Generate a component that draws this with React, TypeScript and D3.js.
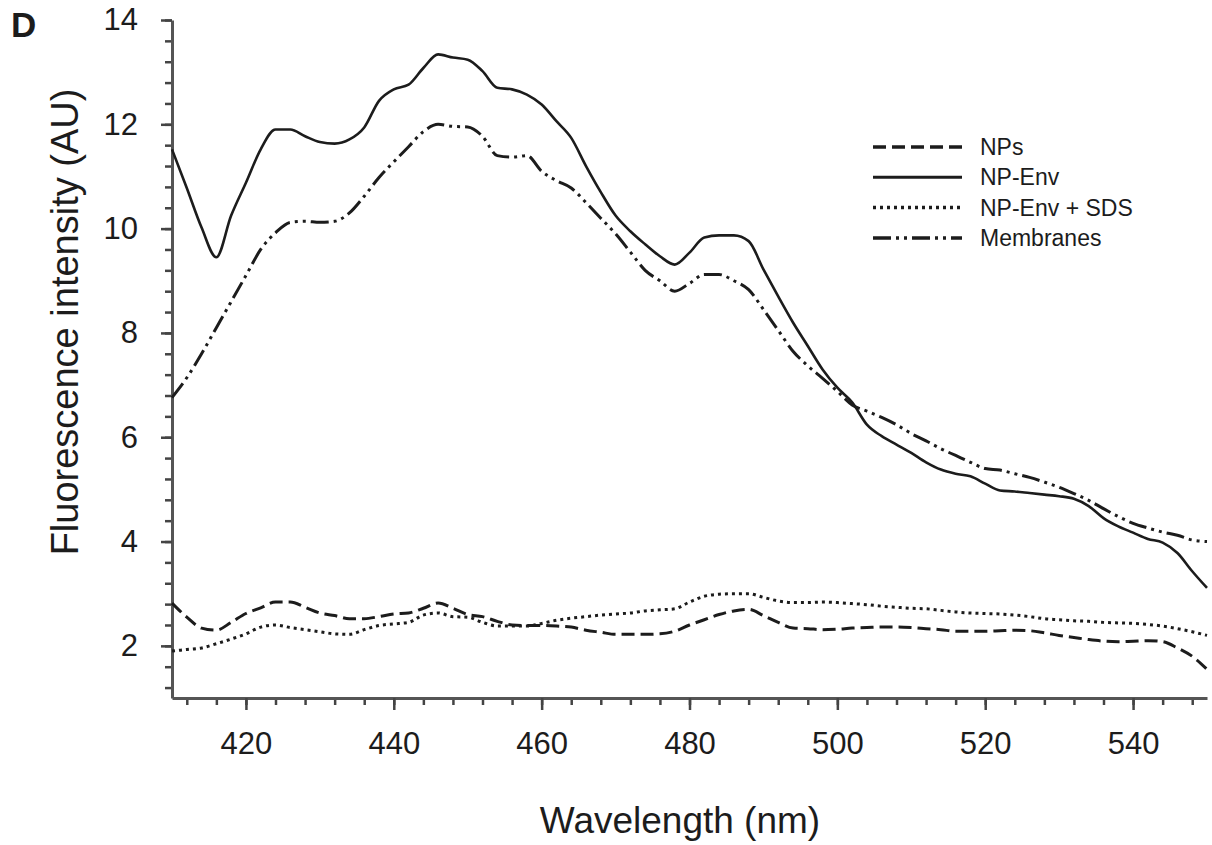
import React, { useEffect, useRef } from 'react'
import * as d3 from 'd3'

// wavelength grid (nm), read every 2 nm off the figure
const wavelengths = [
  410, 412, 414, 416, 418, 420, 422, 424, 426, 428, 430, 432, 434, 436, 438, 440, 442, 444,
  446, 448, 450, 452, 454, 456, 458, 460, 462, 464, 466, 468, 470, 472, 474, 476, 478, 480,
  482, 484, 486, 488, 490, 492, 494, 496, 498, 500, 502, 504, 506, 508, 510, 512, 514, 516,
  518, 520, 522, 524, 526, 528, 530, 532, 534, 536, 538, 540, 542, 544, 546, 548, 550,
]

const npsValues = [
  2.82, 2.55, 2.34, 2.30, 2.45, 2.62, 2.73, 2.84, 2.84, 2.74, 2.63, 2.58, 2.52, 2.52, 2.56, 2.61, 2.63, 2.72,
  2.82, 2.72, 2.60, 2.56, 2.47, 2.40, 2.39, 2.39, 2.38, 2.36, 2.30, 2.26, 2.22, 2.22, 2.22, 2.23, 2.28, 2.40,
  2.50, 2.60, 2.67, 2.70, 2.58, 2.45, 2.34, 2.33, 2.31, 2.32, 2.34, 2.35, 2.36, 2.36, 2.35, 2.33, 2.31, 2.28,
  2.28, 2.28, 2.29, 2.30, 2.29, 2.25, 2.20, 2.16, 2.12, 2.09, 2.08, 2.09, 2.10, 2.08, 1.96, 1.80, 1.55,
]

const npEnvValues = [
  11.52, 10.78, 10.02, 9.45, 10.25, 10.88, 11.52, 11.90, 11.90, 11.77, 11.66, 11.63, 11.71, 11.94, 12.45, 12.67, 12.76, 13.08,
  13.34, 13.28, 13.24, 13.02, 12.70, 12.67, 12.57, 12.38, 12.06, 11.74, 11.20, 10.70, 10.25, 9.95, 9.70, 9.47, 9.31, 9.54,
  9.83, 9.87, 9.87, 9.76, 9.22, 8.70, 8.20, 7.75, 7.30, 6.95, 6.67, 6.24, 6.02, 5.86, 5.70, 5.52, 5.38, 5.30,
  5.25, 5.11, 4.98, 4.96, 4.93, 4.90, 4.87, 4.82, 4.68, 4.45, 4.29, 4.17, 4.05, 3.98, 3.78, 3.43, 3.11,
]

const sdsValues = [
  1.90, 1.93, 1.96, 2.04, 2.13, 2.23, 2.36, 2.40, 2.35, 2.31, 2.27, 2.23, 2.22, 2.31, 2.39, 2.42, 2.45, 2.59,
  2.63, 2.56, 2.55, 2.45, 2.38, 2.38, 2.38, 2.43, 2.49, 2.53, 2.56, 2.59, 2.61, 2.63, 2.67, 2.69, 2.71, 2.84,
  2.95, 2.99, 3.00, 3.00, 2.93, 2.86, 2.83, 2.83, 2.84, 2.83, 2.81, 2.79, 2.76, 2.74, 2.72, 2.71, 2.68, 2.65,
  2.63, 2.62, 2.61, 2.59, 2.56, 2.52, 2.50, 2.48, 2.47, 2.45, 2.44, 2.43, 2.41, 2.38, 2.33, 2.27, 2.20,
]

const membraneValues = [
  6.76, 7.14, 7.60, 8.10, 8.60, 9.10, 9.60, 9.92, 10.12, 10.14, 10.12, 10.14, 10.30, 10.62, 10.98, 11.28, 11.57, 11.86,
  12.00, 11.96, 11.95, 11.77, 11.40, 11.37, 11.40, 11.10, 10.92, 10.78, 10.50, 10.20, 9.90, 9.55, 9.20, 9.00, 8.80, 8.95,
  9.12, 9.12, 9.00, 8.83, 8.45, 8.05, 7.65, 7.37, 7.13, 6.88, 6.62, 6.50, 6.38, 6.24, 6.07, 5.93, 5.78, 5.65,
  5.52, 5.40, 5.37, 5.30, 5.23, 5.14, 5.04, 4.92, 4.79, 4.63, 4.48, 4.35, 4.26, 4.18, 4.12, 4.03, 4.00,
]

const seriesNames = ['NPs', 'NP-Env', 'NP-Env + SDS', 'Membranes']
const xTickLabels = [420, 440, 460, 480, 500, 520, 540]
const yTickLabels = [2, 4, 6, 8, 10, 12, 14]

const font = '"Liberation Sans", Arial, Helvetica, sans-serif'
const ink = '#1c1c1c'

export default function App() {
  const svgRef = useRef<SVGSVGElement>(null)

  const width = 1212
  const height = 845
  const marginTop = 20
  const marginRight = 5
  const marginBottom = 147
  const marginLeft = 172

  useEffect(() => {
    const svg = d3.select(svgRef.current)
    svg.selectAll('*').remove()

    const x = d3.scaleLinear().domain([410, 550]).range([marginLeft, width - marginRight])
    const y = d3.scaleLinear().domain([1, 14]).range([height - marginBottom, marginTop])

    // styles for each series, same order as seriesNames
    const dashes = ['13,6', null, '3,4', '18,5,3,5,3,5']
    const widths = [3, 2.6, 3, 3]
    const values = [npsValues, npEnvValues, sdsValues, membraneValues]

    // minor ticks first (every 4 nm / 0.4 AU), then the labelled ones
    svg.append('g')
      .attr('transform', `translate(0,${height - marginBottom})`)
      .call(d3.axisBottom(x).tickValues(d3.range(412, 549, 4)).tickSize(7).tickSizeOuter(0).tickFormat(() => ''))
      .call(g => g.select('.domain').remove())
      .call(g => g.selectAll('.tick line').attr('stroke', '#444').attr('stroke-width', 2.5))

    svg.append('g')
      .attr('transform', `translate(${marginLeft},0)`)
      .call(d3.axisLeft(y).tickValues(d3.range(1.2, 14.01, 0.4)).tickSize(7).tickSizeOuter(0).tickFormat(() => ''))
      .call(g => g.select('.domain').remove())
      .call(g => g.selectAll('.tick line').attr('stroke', '#444').attr('stroke-width', 2.5))

    svg.append('g')
      .attr('transform', `translate(0,${height - marginBottom})`)
      .call(d3.axisBottom(x).tickValues(xTickLabels).tickSize(12).tickPadding(22).tickSizeOuter(0).tickFormat(d3.format('d')))
      .call(g => g.select('.domain').attr('stroke', '#555').attr('stroke-width', 3))
      .call(g => g.selectAll('.tick line').attr('stroke', '#444').attr('stroke-width', 2.5))
      .call(g => g.selectAll('.tick text').attr('font-size', 31).attr('font-family', font).attr('fill', ink))

    svg.append('g')
      .attr('transform', `translate(${marginLeft},0)`)
      .call(d3.axisLeft(y).tickValues(yTickLabels).tickSize(11).tickPadding(23).tickSizeOuter(0).tickFormat(d3.format('d')))
      .call(g => g.select('.domain').attr('stroke', '#555').attr('stroke-width', 3))
      .call(g => g.selectAll('.tick line').attr('stroke', '#444').attr('stroke-width', 2.5))
      .call(g => g.selectAll('.tick text').attr('font-size', 31).attr('font-family', font).attr('fill', ink))

    // curves
    const line = d3.line<number>()
      .x((_, i) => x(wavelengths[i]))
      .y(d => y(d))
      .curve(d3.curveMonotoneX)

    svg.append('g')
      .selectAll('path')
      .data(values)
      .join('path')
        .attr('d', d => line(d))
        .attr('fill', 'none')
        .attr('stroke', ink)
        .attr('stroke-width', (_, i) => widths[i])
        .attr('stroke-dasharray', (_, i) => dashes[i])
        .attr('stroke-linejoin', 'round')

    // legend
    const legend = svg.append('g')
      .selectAll('g')
      .data(seriesNames)
      .join('g')
        .attr('transform', (_, i) => `translate(873,${147 + i * 30.3})`)

    legend.append('line')
      .attr('x2', 89)
      .attr('stroke', ink)
      .attr('stroke-width', (_, i) => widths[i] + 0.5)
      .attr('stroke-dasharray', (_, i) => dashes[i])

    legend.append('text')
      .attr('x', 107)
      .attr('dy', '0.35em')
      .attr('font-size', 23)
      .attr('font-family', font)
      .attr('fill', ink)
      .text(d => d)

    // titles
    svg.append('text')
      .attr('x', 11)
      .attr('y', 37)
      .attr('font-size', 35)
      .attr('font-weight', 'bold')
      .attr('font-family', font)
      .attr('fill', ink)
      .text('D')

    svg.append('text')
      .attr('x', 680)
      .attr('y', 833)
      .attr('text-anchor', 'middle')
      .attr('font-size', 37)
      .attr('font-family', font)
      .attr('fill', ink)
      .text('Wavelength (nm)')

    svg.append('text')
      .attr('transform', 'translate(78,322) rotate(-90)')
      .attr('text-anchor', 'middle')
      .attr('font-size', 38)
      .attr('font-family', font)
      .attr('fill', ink)
      .text('Fluorescence intensity (AU)')
  }, [])

  return (
    <svg
      ref={svgRef}
      width={width}
      height={height}
      style={{ position: 'absolute', left: 0, top: 0, background: '#fff' }}
    />
  )
}
